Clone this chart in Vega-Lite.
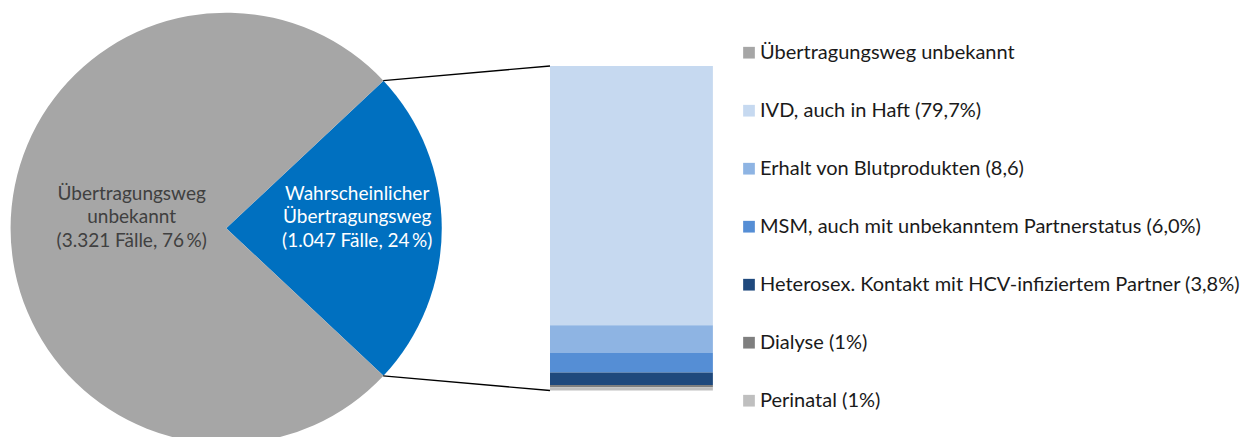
{
  "$schema": "https://vega.github.io/schema/vega-lite/v6.json",
  "width": 1259,
  "height": 437,
  "autosize": {"type": "none"},
  "padding": 0,
  "background": "white",
  "config": {"view": {"stroke": null}, "font": "Lato"},
  "datasets": {
    "gesamt": [
      {"Kategorie": "Wahrscheinlicher Übertragungsweg", "Faelle": 1047, "Nr": 1, "Label": "Wahrscheinlicher\nÜbertragungsweg\n(1.047 Fälle, 24\u2009%)"},
      {"Kategorie": "Übertragungsweg unbekannt", "Faelle": 3321, "Nr": 2, "Label": "Übertragungsweg\nunbekannt\n(3.321 Fälle, 76\u2009%)"}
    ],
    "wege": [
      {"Weg": "IVD, auch in Haft (79,7%)", "Anteil": 79.7, "Nr": 1},
      {"Weg": "Erhalt von Blutprodukten (8,6)", "Anteil": 8.6, "Nr": 2},
      {"Weg": "MSM, auch mit unbekanntem Partnerstatus (6,0%)", "Anteil": 6.0, "Nr": 3},
      {"Weg": "Heterosex. Kontakt mit HCV-infiziertem Partner (3,8%)", "Anteil": 3.8, "Nr": 4},
      {"Weg": "Dialyse (1%)", "Anteil": 0.7, "Nr": 5},
      {"Weg": "Perinatal (1%)", "Anteil": 1.0, "Nr": 6}
    ]
  },
  "layer": [
    {
      "data": {"name": "gesamt"},
      "mark": {"type": "arc", "radius": 215.6, "stroke": null},
      "encoding": {
        "x": {"datum": 0.697, "type": "quantitative", "scale": {"domain": [0, 3.88], "nice": false, "zero": false}, "axis": null},
        "y": {"datum": 0.5, "type": "quantitative", "scale": {"domain": [-0.1433, 1.2034], "nice": false, "zero": false}, "axis": null},
        "theta": {"field": "Faelle", "type": "quantitative", "stack": true, "scale": {"range": [0.8177, 7.1009]}},
        "order": {"field": "Nr", "type": "quantitative"},
        "fill": {"field": "Kategorie", "type": "nominal", "scale": {"domain": ["Wahrscheinlicher Übertragungsweg", "Übertragungsweg unbekannt"], "range": ["#0070c0", "#a6a6a6"]}, "legend": null}
      }
    },
    {
      "data": {"name": "gesamt"},
      "mark": {"type": "text", "radius": 94.5, "dy": -34.5, "fontSize": 19, "lineHeight": 23.5, "lineBreak": "\n", "align": "center", "baseline": "middle", "color": "#404040"},
      "encoding": {
        "x": {"datum": 0.697, "type": "quantitative"},
        "y": {"datum": 0.5, "type": "quantitative"},
        "theta": {"field": "Faelle", "type": "quantitative", "stack": true},
        "order": {"field": "Nr", "type": "quantitative"},
        "text": {"condition": {"test": "datum.Nr == 2", "field": "Label"}, "value": ""}
      }
    },
    {
      "data": {"name": "gesamt"},
      "mark": {"type": "text", "radius": 131, "dy": -34.5, "fontSize": 19, "lineHeight": 23.5, "lineBreak": "\n", "align": "center", "baseline": "middle", "color": "white"},
      "encoding": {
        "x": {"datum": 0.697, "type": "quantitative"},
        "y": {"datum": 0.5, "type": "quantitative"},
        "theta": {"field": "Faelle", "type": "quantitative", "stack": true},
        "order": {"field": "Nr", "type": "quantitative"},
        "text": {"condition": {"test": "datum.Nr == 1", "field": "Label"}, "value": ""}
      }
    },
    {
      "data": {"values": [{}]},
      "mark": {"type": "rule", "color": "black", "strokeWidth": 1.3},
      "encoding": {
        "x": {"datum": 1.181, "type": "quantitative"},
        "y": {"datum": 0.955, "type": "quantitative"},
        "x2": {"datum": 1.695},
        "y2": {"datum": 1.0}
      }
    },
    {
      "data": {"values": [{}]},
      "mark": {"type": "rule", "color": "black", "strokeWidth": 1.3},
      "encoding": {
        "x": {"datum": 1.181, "type": "quantitative"},
        "y": {"datum": 0.045, "type": "quantitative"},
        "x2": {"datum": 1.695},
        "y2": {"datum": 0.0}
      }
    },
    {
      "data": {"name": "wege"},
      "transform": [
        {"stack": "Anteil", "groupby": [], "sort": [{"field": "Nr", "order": "descending"}], "offset": "normalize", "as": ["unten", "oben"]}
      ],
      "mark": {"type": "rect", "stroke": null},
      "encoding": {
        "x": {"datum": 1.695, "type": "quantitative"},
        "x2": {"datum": 2.197},
        "y": {"field": "unten", "type": "quantitative"},
        "y2": {"field": "oben"},
        "color": {
          "field": "Weg",
          "type": "nominal",
          "scale": {
            "domain": ["Übertragungsweg unbekannt", "IVD, auch in Haft (79,7%)", "Erhalt von Blutprodukten (8,6)", "MSM, auch mit unbekanntem Partnerstatus (6,0%)", "Heterosex. Kontakt mit HCV-infiziertem Partner (3,8%)", "Dialyse (1%)", "Perinatal (1%)"],
            "range": ["#a6a6a6", "#c6d9f0", "#8eb4e3", "#558ed5", "#1f497d", "#7f7f7f", "#bfbfbf"]
          },
          "legend": {
            "title": null,
            "orient": "none",
            "legendX": 739,
            "legendY": 42.7,
            "padding": 0,
            "symbolType": "square",
            "symbolSize": 137,
            "symbolStrokeWidth": 0,
            "symbolOpacity": 1,
            "labelFont": "Lato",
            "labelFontSize": 20,
            "labelColor": "#1a1a1a",
            "labelOffset": 1,
            "labelLimit": 600,
            "rowPadding": 38
          }
        }
      }
    }
  ]
}
